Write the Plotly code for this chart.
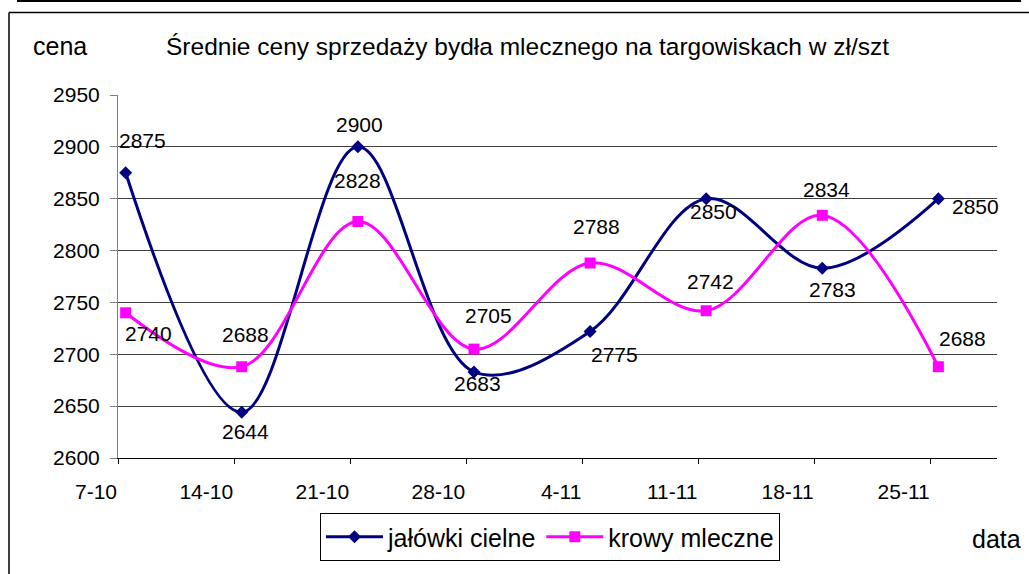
import plotly.graph_objects as go

# ---- data ----
dates = ["7-10", "14-10", "21-10", "28-10", "4-11", "11-11", "18-11", "25-11"]
# plotted positions
jalowki = [2875, 2644, 2900, 2683, 2722, 2850, 2783, 2850]
krowy = [2740, 2688, 2828, 2705, 2788, 2742, 2834, 2688]
# data labels as printed on the chart
labels_j = ["2875", "2644", "2900", "2683", "2775", "2850", "2783", "2850"]
labels_k = ["2740", "2688", "2828", "2705", "2788", "2742", "2834", "2688"]
y_ticks = [2600, 2650, 2700, 2750, 2800, 2850, 2900, 2950]
name_j = "jałówki cielne"
name_k = "krowy mleczne"
title = "Średnie ceny sprzedaży bydła mlecznego na targowiskach w zł/szt"

# ---- layout geometry (pixels) ----
W, H = 1029, 574
PL, PR, PT, PB = 118, 997, 95, 458
X_MAX = 7.571
X_OFF = 0.066
FONT = "Liberation Sans, Arial, sans-serif"

xs = [i + X_OFF for i in range(len(dates))]


def paper(px, py):
    return (px - PL) / (PR - PL), (PB - py) / (PB - PT)


# label offsets in pixels (dx right, dy down)
off_j = [(17, -32), (4, 19), (2, -22), (4, 12), (24, 23), (7, 13), (10, 21), (37, 8)]
off_k = [(23, 21), (4, -32), (0, -41), (15, -34), (6, -37), (4, -29), (4, -26), (24, -28)]

fig = go.Figure()
fig.add_trace(go.Scatter(
    x=xs, y=jalowki, name=name_j, mode="lines+markers",
    line=dict(color="#000080", width=3, shape="spline", smoothing=1),
    marker=dict(symbol="diamond", size=10, color="#000080"),
))
fig.add_trace(go.Scatter(
    x=xs, y=krowy, name=name_k, mode="lines+markers",
    line=dict(color="#FF00FF", width=3, shape="spline", smoothing=1),
    marker=dict(symbol="square", size=11, color="#FF00FF"),
))

ann = []
for xv, yv, t, (dx, dy) in zip(xs, jalowki, labels_j, off_j):
    ann.append(dict(x=xv, y=yv, xref="x", yref="y", text=t, showarrow=False,
                    xshift=dx, yshift=-dy, font=dict(size=21, color="black", family=FONT)))
for xv, yv, t, (dx, dy) in zip(xs, krowy, labels_k, off_k):
    ann.append(dict(x=xv, y=yv, xref="x", yref="y", text=t, showarrow=False,
                    xshift=dx, yshift=-dy, font=dict(size=21, color="black", family=FONT)))

tx, ty = paper(527, 46)
ann.append(dict(x=tx, y=ty, xref="paper", yref="paper", text=title, showarrow=False,
                xanchor="center", yanchor="middle", font=dict(size=24.5, color="black", family=FONT)))
cx, cy = paper(31, 46)
ann.append(dict(x=cx, y=cy, xref="paper", yref="paper", text="cena", showarrow=False,
                xanchor="left", yanchor="middle", font=dict(size=25, color="black", family=FONT)))
dx_, dy_ = paper(970, 539)
ann.append(dict(x=dx_, y=dy_, xref="paper", yref="paper", text="data", showarrow=False,
                xanchor="left", yanchor="middle", font=dict(size=25, color="black", family=FONT)))

shapes = []
# outer frame lines
x0, y0 = paper(17, 1)
x1, _ = paper(1021, 1)
shapes.append(dict(type="line", xref="paper", yref="paper", x0=x0, y0=y0, x1=x1, y1=y0,
                   line=dict(color="black", width=2)))
fx0, fy0 = paper(9, 12.5)
fx1, _ = paper(1035, 12.5)
_, fy1 = paper(9, 580)
shapes.append(dict(type="line", xref="paper", yref="paper", x0=fx0, y0=fy0, x1=fx1, y1=fy0,
                   line=dict(color="black", width=1.5)))
shapes.append(dict(type="line", xref="paper", yref="paper", x0=fx0, y0=fy0, x1=fx0, y1=fy1,
                   line=dict(color="black", width=1.5)))

lx, ly = paper(550, 513)

fig.update_layout(
    width=W, height=H,
    margin=dict(l=PL, r=W - PR, t=PT, b=H - PB, pad=0),
    paper_bgcolor="white", plot_bgcolor="white",
    font=dict(family=FONT, color="black", size=21),
    showlegend=True,
    legend=dict(orientation="h", x=lx, y=ly, xanchor="center", yanchor="top",
                bordercolor="black", borderwidth=1, bgcolor="white",
                font=dict(size=25, family=FONT, color="black"), itemwidth=57),
    annotations=ann,
    shapes=shapes,
)
fig.update_xaxes(
    range=[0, X_MAX], tickvals=list(range(len(dates))), ticktext=dates,
    showgrid=False, zeroline=False, showline=True, linecolor="black", linewidth=1,
    ticks="outside", ticklen=5, tickcolor="black", tickwidth=1,
    ticklabelposition="outside left", ticklabelstandoff=15,
    tickfont=dict(size=21, family=FONT, color="black"),
)
fig.update_yaxes(
    range=[2600, 2950], tickvals=y_ticks,
    showgrid=True, gridcolor="#404040", gridwidth=1, zeroline=False,
    showline=True, linecolor="#808080", linewidth=1,
    ticks="outside", ticklen=7, tickcolor="#808080", tickwidth=1,
    ticklabelstandoff=6,
    tickfont=dict(size=21, family=FONT, color="black"),
)

fig.write_html("out.html", config={"displayModeBar": False},
               post_script="document.body.style.margin='0';")
